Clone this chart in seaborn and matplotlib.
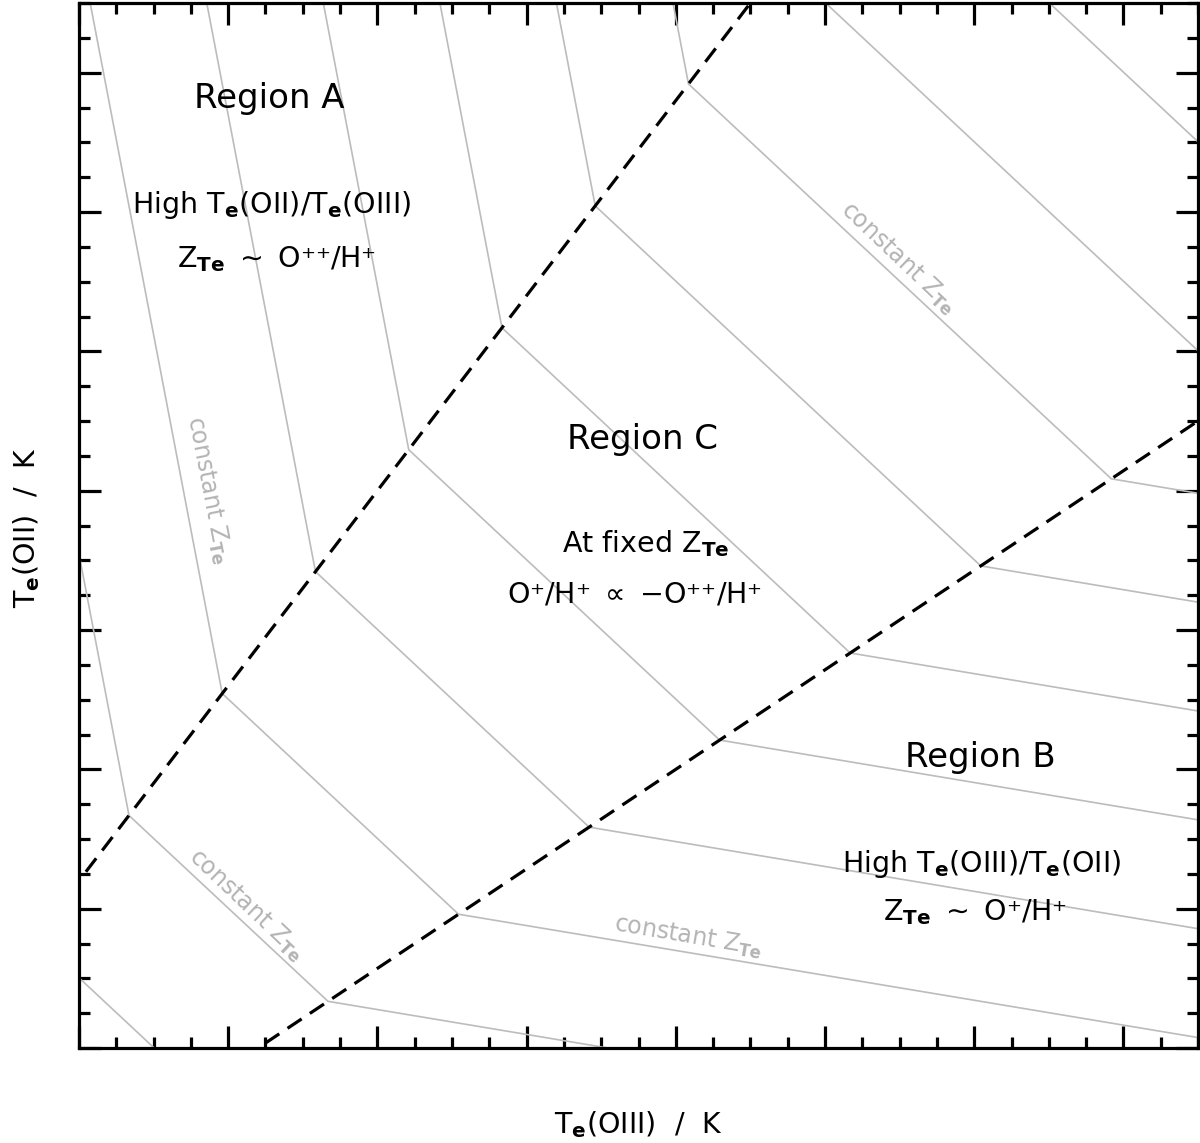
import numpy as np
import pandas as pd
import matplotlib
matplotlib.use("Agg")
import matplotlib.pyplot as plt
import seaborn as sns

# ---------------- data (units: K) ----------------
# constant-Z_Te iso-lines: 4 vertices each (Region A end, kink on A/C boundary,
# kink on C/B boundary, Region B end)
zte_line = [0, 1, 2, 3, 4, 5, 6, 7, 8, 9]
end_a_oiii = [1489, 3052, 4614, 6177, 7739, 9302, 10864, 12427, 13989, 15552]
end_a_oii = [23000, 23000, 23000, 23000, 23000, 23000, 23000, 23000, 23000, 23000]
kink_a_oiii = [4420, 5670, 6920, 8170, 9420, 10670, 11920, 13170, 14420, 15670]
kink_a_oii = [6588, 8338, 10088, 11838, 13588, 15338, 17088, 18838, 20588, 22338]
kink_b_oiii = [6588, 8338, 10088, 11838, 13588, 15338, 17088, 18838, 20588, 22338]
kink_b_oii = [4420, 5670, 6920, 8170, 9420, 10670, 11920, 13170, 14420, 15670]
end_b_oiii = [23000, 23000, 23000, 23000, 23000, 23000, 23000, 23000, 23000, 23000]
end_b_oii = [1489, 3052, 4614, 6177, 7739, 9302, 10864, 12427, 13989, 15552]

# dashed region boundaries
boundary_ac_oiii = [4000, 15000]
boundary_ac_oii = [6000, 21400]
boundary_cb_oiii = [6000, 21400]
boundary_cb_oii = [4000, 15000]

x_range = [5000, 20000]
y_range = [5000, 20000]
major_ticks = [5000, 7000, 9000, 11000, 13000, 15000, 17000, 19000]
minor_step = 500

# ---------------- tables for seaborn ----------------
rows = []
for i, k in enumerate(zte_line):
    pts = [(end_a_oiii[i], end_a_oii[i]), (kink_a_oiii[i], kink_a_oii[i]),
           (kink_b_oiii[i], kink_b_oii[i]), (end_b_oiii[i], end_b_oii[i])]
    for j, (xv, yv) in enumerate(pts):
        rows.append({"line": k, "order": j, "oiii": xv, "oii": yv})
iso = pd.DataFrame(rows)

bnd = pd.DataFrame({
    "boundary": ["AC", "AC", "CB", "CB"],
    "oiii": boundary_ac_oiii + boundary_cb_oiii,
    "oii": boundary_ac_oii + boundary_cb_oii,
})

# ---------------- styling ----------------
sns.set_theme(style="white")
plt.rcParams["font.family"] = ["DejaVu Sans"]
plt.rcParams["mathtext.fontset"] = "dejavusans"

fig = plt.figure(figsize=(12, 11.43), dpi=100)
ax = fig.add_axes([79 / 1200, 1 - 1048 / 1143, 1119 / 1200, 1045 / 1143])

gray = "#bcbcbc"
sns.lineplot(data=iso, x="oiii", y="oii", units="line", estimator=None,
             sort=False, color=gray, linewidth=1.2, legend=False, ax=ax, zorder=1)
sns.lineplot(data=bnd, x="oiii", y="oii", units="boundary", estimator=None,
             sort=False, color="black", linewidth=2.3, linestyle=(0, (5.3, 3.1)),
             legend=False, ax=ax, zorder=2)

ax.set_xlim(*x_range)
ax.set_ylim(*y_range)
ax.set_xticks(major_ticks)
ax.set_yticks(major_ticks)
ax.set_xticks(np.arange(x_range[0], x_range[1] + 1, minor_step), minor=True)
ax.set_yticks(np.arange(y_range[0], y_range[1] + 1, minor_step), minor=True)
ax.tick_params(which="both", direction="in", top=True, right=True,
               bottom=True, left=True, labelbottom=False, labelleft=False,
               width=2.3, color="black")
ax.tick_params(which="major", length=16)
ax.tick_params(which="minor", length=8)
for s in ax.spines.values():
    s.set_linewidth(2.3)
    s.set_color("black")
ax.grid(False)

ax.set_xlabel(r"T$_\mathbf{e}$(OIII)  /  K", fontsize=20.5, color="black")
ax.set_ylabel(r"T$_\mathbf{e}$(OII)  /  K", fontsize=20.5, color="black")
ax.xaxis.label.set_verticalalignment("baseline")
ax.xaxis.set_label_coords(0.5, -(1133 - 1048) / 1045)
ax.yaxis.label.set_verticalalignment("baseline")
ax.yaxis.set_label_coords((35 - 79) / 1119, 0.4976)

big = 24.5
small = 20.5
txt = dict(ha="center", va="baseline", color="black")
ax.text(7547, 18493, "Region A", fontsize=big, **txt)
ax.text(7587, 16986, r"High T$_\mathbf{e}$(OII)/T$_\mathbf{e}$(OIII)", fontsize=small, **txt)
ax.text(7654, 16210, r"Z$_\mathbf{Te}$ $\sim$ O⁺⁺/H⁺", fontsize=small, **txt)
ax.text(12547, 13598, "Region C", fontsize=big, **txt)
ax.text(12601, 12120, r"At fixed Z$_\mathbf{Te}$", fontsize=small, **txt)
ax.text(12440, 11388, r"O⁺/H⁺ $\propto$ −O⁺⁺/H⁺", fontsize=small, **txt)
ax.text(17078, 9033, "Region B", fontsize=big, **txt)
ax.text(17105, 7526, r"High T$_\mathbf{e}$(OIII)/T$_\mathbf{e}$(OII)", fontsize=small, **txt)
ax.text(17011, 6837, r"Z$_\mathbf{Te}$ $\sim$ O⁺/H⁺", fontsize=small, **txt)

lab = r"constant Z$_\mathbf{Te}$"
gtxt = dict(ha="center", va="center", color="#b4b4b4", fontsize=17,
            rotation_mode="anchor")
ax.text(6729, 13010, lab, rotation=-79, **gtxt)
ax.text(15992, 16340, lab, rotation=-43.5, **gtxt)
ax.text(7252, 7053, lab, rotation=-43.5, **gtxt)
ax.text(13164, 6593, lab, rotation=-9.6, **gtxt)

fig.savefig("out.png", dpi=100)
